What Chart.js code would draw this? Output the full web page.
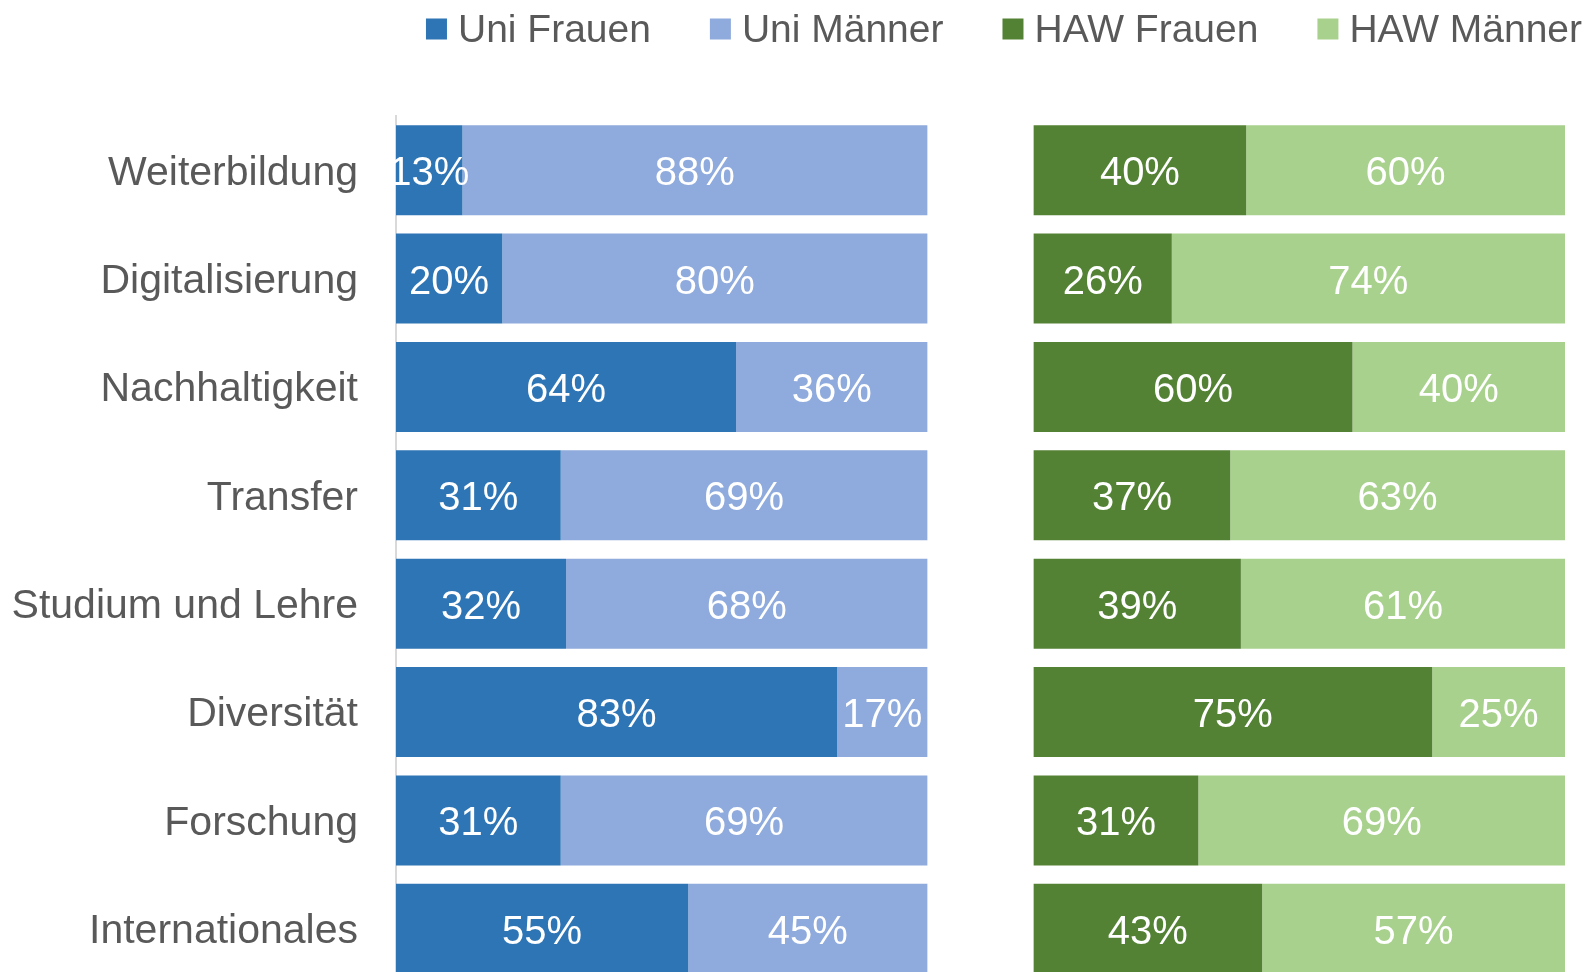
<!DOCTYPE html>
<html><head><meta charset="utf-8">
<script src="https://cdn.jsdelivr.net/npm/chart.js@4/dist/chart.umd.min.js"></script>
<style>
html,body{margin:0;padding:0;background:#fff;overflow:hidden;width:1590px;height:972px}
#wrap{position:absolute;left:0;top:0;width:1590px;height:983px}
</style>
</head><body><div id="wrap"><canvas id="c" width="1590" height="983"></canvas></div>
<script>
// ---- data ----
const categories = ['Weiterbildung','Digitalisierung','Nachhaltigkeit','Transfer','Studium und Lehre','Diversität','Forschung','Internationales'];
const seriesNames = ['Uni Frauen','Uni Männer','HAW Frauen','HAW Männer'];
const uniFrauen  = [12.5, 20, 64, 31, 32, 83, 31, 55];
const uniMaenner = [87.5, 80, 36, 69, 68, 17, 69, 45];
const hawFrauen  = [40, 26, 60, 37, 39, 75, 31, 43];
const hawMaenner = [60, 74, 40, 63, 61, 25, 69, 57];
const groupGap   = [20, 20, 20, 20, 20, 20, 20, 20]; // invisible spacer between Uni and HAW blocks

// ---- styles ----
const colors = ['#2E75B6','#8FAADC','#548235','#A9D18E'];
const FONT = "'Liberation Sans', Arial, sans-serif";
const TEXT = '#595959';

const mk = (label, data, color) => ({label, data, backgroundColor: color, borderWidth: 0,
  categoryPercentage: 0.83, barPercentage: 1});
const datasets = [
  mk(seriesNames[0], uniFrauen, colors[0]),
  mk(seriesNames[1], uniMaenner, colors[1]),
  Object.assign(mk('spacer', groupGap, 'rgba(0,0,0,0)'), {spacer: true}),
  mk(seriesNames[2], hawFrauen, colors[2]),
  mk(seriesNames[3], hawMaenner, colors[3])
];

const labelPlugin = {
  id: 'segLabels',
  afterDatasetsDraw(chart) {
    const ctx = chart.ctx;
    ctx.save();
    ctx.fillStyle = '#ffffff';
    ctx.font = '40px ' + FONT;
    ctx.textAlign = 'center';
    ctx.textBaseline = 'middle';
    chart.data.datasets.forEach((ds, di) => {
      if (ds.spacer) return;
      chart.getDatasetMeta(di).data.forEach((el, i) => {
        const p = el.getProps(['x','y','base'], true);
        ctx.fillText(Math.round(ds.data[i]) + '%', (p.x + p.base) / 2, p.y + 4);
      });
    });
    ctx.restore();
  }
};

const legendPlugin = {
  id: 'topLegend',
  afterDraw(chart) {
    const ctx = chart.ctx;
    ctx.save();
    ctx.font = '39px ' + FONT;
    ctx.textBaseline = 'middle';
    ctx.textAlign = 'left';
    const items = chart.data.datasets.filter(d => !d.spacer);
    const box = 21, gapBox = 11, gapItem = 59;
    const widths = items.map(d => box + gapBox + ctx.measureText(d.label).width);
    const total = widths.reduce((a,b)=>a+b,0) + gapItem * (items.length - 1);
    let x = 1004 - total / 2;
    const cy = 29;
    items.forEach((d, i) => {
      ctx.fillStyle = d.backgroundColor;
      ctx.fillRect(x, cy - box/2, box, box);
      ctx.fillStyle = TEXT;
      ctx.fillText(d.label, x + box + gapBox, cy + 2);
      x += widths[i] + gapItem;
    });
    ctx.restore();
  }
};

new Chart(document.getElementById('c'), {
  type: 'bar',
  data: {labels: categories, datasets},
  options: {
    indexAxis: 'y',
    responsive: false,
    animation: false,
    layout: {padding: {top: 116, right: 25, bottom: 0, left: 0}},
    plugins: {legend: {display: false}, tooltip: {enabled: false}},
    scales: {
      x: {stacked: true, display: false, min: 0, max: 220},
      y: {
        stacked: true,
        grid: {display: false, drawTicks: false},
        border: {display: true, color: '#d9d9d9', width: 2},
        ticks: {color: TEXT, font: {size: 41, family: FONT}, padding: 38, labelOffset: 3},
        afterFit(s) { s.width = 396; s.paddingTop = 0; s.paddingBottom = 0; }
      }
    }
  },
  plugins: [labelPlugin, legendPlugin]
});
</script>
</body></html>
